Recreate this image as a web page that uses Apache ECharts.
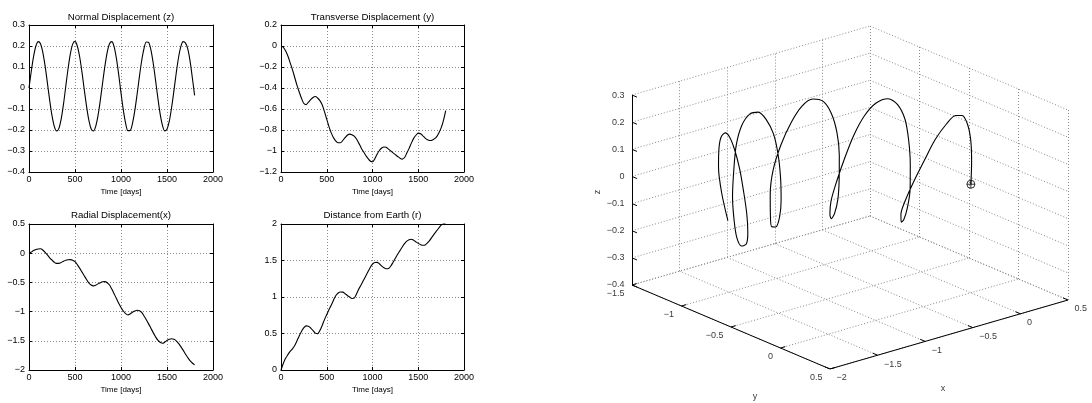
<!DOCTYPE html>
<html>
<head>
<meta charset="utf-8">
<script src="https://cdn.jsdelivr.net/npm/echarts@6/dist/echarts.min.js"></script>
<style>
  html, body { margin: 0; padding: 0; background: #fff; }
  #chart { width: 1092px; height: 403px; }
</style>
</head>
<body>
<div id="chart"></div>
<script>
// ---------------- data ----------------
const T = [0,25,50,75,100,125,150,175,200,225,250,275,300,325,350,375,400,425,450,475,500,525,550,575,600,625,650,675,700,725,750,775,800,825,850,875,900,925,950,975,1000,1025,1050,1075,1100,1125,1150,1175,1200,1225,1250,1275,1300,1325,1350,1375,1400,1425,1450,1475,1500,1525,1550,1575,1600,1625,1650,1675,1700,1725,1750,1775,1800];

// Normal displacement z
const Z_NORMAL = [0,0.081,0.151,0.200,0.221,0.211,0.170,0.105,0.024,-0.059,
  -0.132,-0.183,-0.205,-0.192,-0.147,-0.077,0.009,0.093,0.164,0.209,
  0.222,0.200,0.150,0.078,-0.005,-0.085,-0.152,-0.194,-0.205,-0.183,
  -0.132,-0.059,0.024,0.104,0.170,0.211,0.221,0.197,0.141,0.064,
  -0.023,-0.104,-0.167,-0.203,-0.202,-0.168,-0.108,-0.030,0.054,0.131,
  0.188,0.219,0.217,0.182,0.119,0.039,-0.046,-0.122,-0.177,-0.204,
  -0.196,-0.158,-0.093,-0.014,0.070,0.144,0.197,0.221,0.215,0.187,
  0.130,0.050,-0.035];

// Transverse displacement y
const Y_TRANSVERSE = [0,-0.012,-0.045,-0.095,-0.16,-0.225,-0.30,-0.375,-0.44,-0.50,
  -0.548,-0.558,-0.535,-0.51,-0.49,-0.481,-0.495,-0.52,-0.56,-0.625,
  -0.698,-0.77,-0.83,-0.875,-0.905,-0.922,-0.922,-0.9,-0.873,-0.85,
  -0.839,-0.845,-0.858,-0.885,-0.925,-0.968,-1.005,-1.04,-1.07,-1.095,
  -1.103,-1.075,-1.03,-0.995,-0.972,-0.962,-0.965,-0.982,-1.0,-1.018,
  -1.035,-1.052,-1.068,-1.077,-1.062,-1.02,-0.975,-0.925,-0.88,-0.85,
  -0.83,-0.835,-0.855,-0.877,-0.893,-0.9,-0.898,-0.885,-0.865,-0.828,
  -0.78,-0.71,-0.615];

// Radial displacement x
const X_RADIAL = [0,0.02,0.045,0.063,0.073,0.075,0.055,0.015,-0.03,-0.08,
  -0.118,-0.155,-0.175,-0.175,-0.158,-0.138,-0.122,-0.113,-0.11,-0.12,
  -0.145,-0.195,-0.255,-0.32,-0.385,-0.45,-0.51,-0.545,-0.56,-0.548,
  -0.525,-0.505,-0.49,-0.487,-0.505,-0.545,-0.615,-0.695,-0.775,-0.855,
  -0.93,-0.99,-1.035,-1.058,-1.04,-1.01,-0.99,-0.978,-0.985,-1.015,
  -1.075,-1.14,-1.21,-1.285,-1.36,-1.43,-1.49,-1.525,-1.543,-1.525,
  -1.495,-1.475,-1.465,-1.475,-1.5,-1.545,-1.6,-1.66,-1.725,-1.785,
  -1.84,-1.88,-1.913];

// Distance from Earth r
const R_DIST = [0,0.09,0.16,0.21,0.255,0.29,0.335,0.40,0.47,0.53,
  0.58,0.605,0.6,0.575,0.54,0.505,0.497,0.54,0.61,0.69,
  0.76,0.83,0.89,0.96,1.02,1.055,1.068,1.067,1.045,1.02,
  1.0,0.98,0.985,1.04,1.11,1.165,1.225,1.285,1.345,1.405,
  1.45,1.473,1.475,1.455,1.425,1.4,1.387,1.39,1.425,1.475,
  1.53,1.585,1.635,1.685,1.73,1.765,1.785,1.792,1.778,1.755,
  1.735,1.718,1.708,1.712,1.74,1.775,1.82,1.865,1.905,1.945,
  1.985,2.005,2.015];

const TITLES = ['Normal Displacement (z)', 'Transverse Displacement (y)', 'Radial Displacement(x)', 'Distance from Earth (r)'];
const X_LABEL = 'Time [days]';
const T_RANGE = [0, 2000, 500];
const Y_RANGES = [[-0.4, 0.3, 0.1], [-1.2, 0.2, 0.2], [-2, 0.5, 0.5], [0, 2, 0.5]];

// 3-D axes ticks
const X3_TICKS = [-2, -1.5, -1, -0.5, 0, 0.5];
const Y3_TICKS = [-1.5, -1, -0.5, 0, 0.5];
const Z3_TICKS = [-0.4, -0.3, -0.2, -0.1, 0, 0.1, 0.2, 0.3];
const AXIS3_NAMES = ['x', 'y', 'z'];

// ---------------- layout ----------------
const FONT = 'Liberation Sans, Arial, Helvetica, sans-serif';
const GRIDS = [
  {left: 29, top: 25, width: 184, height: 147},
  {left: 281, top: 25, width: 183, height: 147},
  {left: 29, top: 224, width: 184, height: 146},
  {left: 281, top: 224, width: 183, height: 146}
];
const TITLE_GAPS = [3, 3, 4, 4];
// 3-D view: pixel direction of one data unit along each axis
const P_ORIGIN = [632, 285];
const EX = [95.2, 27.6];
const EY = [99, -42];
const EZ = 271.4;

const XMIN = X3_TICKS[0], XMAX = X3_TICKS[X3_TICKS.length - 1];
const YMIN = Y3_TICKS[0], YMAX = Y3_TICKS[Y3_TICKS.length - 1];
const ZMIN = Z3_TICKS[0], ZMAX = Z3_TICKS[Z3_TICKS.length - 1];

function proj(x, y, z) {
  return [
    (x - XMIN) * EX[0] + (y - YMIN) * EY[0],
    (x - XMIN) * EX[1] + (y - YMIN) * EY[1] + (z - ZMIN) * EZ
  ];
}
function fmt(v) {
  const s = String(Math.round(v * 1000) / 1000);
  return s.replace('-', '\u2212');
}

const corners = [];
[XMIN, XMAX].forEach(x => [YMIN, YMAX].forEach(y => [ZMIN, ZMAX].forEach(z => corners.push(proj(x, y, z)))));
const uMin = Math.min(...corners.map(c => c[0])), uMax = Math.max(...corners.map(c => c[0]));
const vMin = Math.min(...corners.map(c => c[1])), vMax = Math.max(...corners.map(c => c[1]));

// ---------------- 2-D subplots ----------------
const SERIES_2D = [Z_NORMAL, Y_TRANSVERSE, X_RADIAL, R_DIST];
const grid = [], xAxis = [], yAxis = [], series = [];
const dotted = {color: '#8a8a8a', type: [1, 2], width: 1};
const black = {color: '#000', width: 1};

GRIDS.forEach((g, i) => {
  grid.push(Object.assign({outerBoundsMode: 'none', containLabel: false}, g));
  const yr = Y_RANGES[i];
  // bottom
  xAxis.push({
    gridIndex: i, type: 'value', position: 'bottom', min: T_RANGE[0], max: T_RANGE[1], interval: T_RANGE[2],
    axisLine: {show: true, onZero: false, lineStyle: black},
    axisTick: {show: true, inside: true, length: 3, lineStyle: black},
    axisLabel: {show: true, margin: 3, fontSize: 9, color: '#000', fontFamily: FONT, formatter: fmt},
    splitLine: {show: true, lineStyle: dotted},
    name: X_LABEL, nameLocation: 'middle', nameGap: 16,
    nameTextStyle: {fontSize: 8, color: '#000', fontFamily: FONT}
  });
  // left
  yAxis.push({
    gridIndex: i, type: 'value', position: 'left', min: yr[0], max: yr[1], interval: yr[2],
    axisLine: {show: true, onZero: false, lineStyle: black},
    axisTick: {show: true, inside: true, length: 3, lineStyle: black},
    axisLabel: {show: true, margin: 4, fontSize: 9, color: '#000', fontFamily: FONT, formatter: fmt},
    splitLine: {show: true, lineStyle: dotted}
  });
  series.push({
    type: 'line', xAxisIndex: i, yAxisIndex: i,
    data: T.map((t, k) => [t, SERIES_2D[i][k]]),
    showSymbol: false, smooth: 0.3, clip: true,
    lineStyle: {color: '#000', width: 1.1}, silent: true
  });
});
// top + right frame axes (box with inner ticks), top carries the title
GRIDS.forEach((g, i) => {
  const yr = Y_RANGES[i];
  xAxis.push({
    gridIndex: i, type: 'value', position: 'top', min: T_RANGE[0], max: T_RANGE[1], interval: T_RANGE[2],
    axisLine: {show: true, onZero: false, lineStyle: black},
    axisTick: {show: true, inside: true, length: 3, lineStyle: black},
    axisLabel: {show: false}, splitLine: {show: false},
    name: TITLES[i], nameLocation: 'middle', nameGap: TITLE_GAPS[i],
    nameTextStyle: {fontSize: 9.7, color: '#000', fontFamily: FONT}
  });
  yAxis.push({
    gridIndex: i, type: 'value', position: 'right', min: yr[0], max: yr[1], interval: yr[2],
    axisLine: {show: true, onZero: false, lineStyle: black},
    axisTick: {show: true, inside: true, length: 3, lineStyle: black},
    axisLabel: {show: false}, splitLine: {show: false}
  });
});

// ---------------- 3-D plot (projected onto a hidden cartesian) ----------------
const G3 = 4;
grid.push({
  outerBoundsMode: 'none', containLabel: false,
  left: P_ORIGIN[0] + uMin, top: P_ORIGIN[1] - vMax,
  width: uMax - uMin, height: vMax - vMin
});
xAxis.push({gridIndex: G3, type: 'value', min: uMin, max: uMax, show: false});
yAxis.push({gridIndex: G3, type: 'value', min: vMin, max: vMax, show: false});
const AX3 = xAxis.length - 1;

function seg(a, b) { return {coords: [proj(...a), proj(...b)]}; }
const gridSegs = [];
X3_TICKS.forEach(x => {
  gridSegs.push(seg([x, YMIN, ZMIN], [x, YMAX, ZMIN]));   // floor
  gridSegs.push(seg([x, YMIN, ZMIN], [x, YMIN, ZMAX]));   // back wall
});
Y3_TICKS.forEach(y => {
  gridSegs.push(seg([XMIN, y, ZMIN], [XMAX, y, ZMIN]));   // floor
  gridSegs.push(seg([XMAX, y, ZMIN], [XMAX, y, ZMAX]));   // side wall
});
Z3_TICKS.forEach(z => {
  gridSegs.push(seg([XMIN, YMIN, z], [XMAX, YMIN, z]));   // back wall
  gridSegs.push(seg([XMAX, YMIN, z], [XMAX, YMAX, z]));   // side wall
});
const axisSegs = [
  seg([XMIN, YMIN, ZMIN], [XMIN, YMIN, ZMAX]),
  seg([XMIN, YMIN, ZMIN], [XMIN, YMAX, ZMIN]),
  seg([XMIN, YMAX, ZMIN], [XMAX, YMAX, ZMIN])
];
const TL = 0.05;
Z3_TICKS.forEach(z => axisSegs.push(seg([XMIN, YMIN, z], [XMIN, YMIN + TL, z])));
Y3_TICKS.forEach(y => axisSegs.push(seg([XMIN, y, ZMIN], [XMIN + TL, y, ZMIN])));
X3_TICKS.forEach(x => axisSegs.push(seg([x, YMAX, ZMIN], [x, YMAX - TL, ZMIN])));

series.push({
  type: 'lines', coordinateSystem: 'cartesian2d', xAxisIndex: AX3, yAxisIndex: AX3,
  data: gridSegs, silent: true, z: 1,
  lineStyle: {color: '#8a8a8a', type: [1, 2], width: 1, opacity: 1}
});
series.push({
  type: 'lines', coordinateSystem: 'cartesian2d', xAxisIndex: AX3, yAxisIndex: AX3,
  data: axisSegs, silent: true, z: 3,
  lineStyle: {color: '#000', width: 1, opacity: 1}
});
// trajectory
series.push({
  type: 'line', xAxisIndex: AX3, yAxisIndex: AX3, z: 4,
  data: T.map((t, k) => proj(X_RADIAL[k], Y_TRANSVERSE[k], Z_NORMAL[k])),
  showSymbol: false, smooth: 0.3, clip: false, silent: true,
  lineStyle: {color: '#000', width: 1.1}
});
// start marker (Earth symbol)
series.push({
  type: 'scatter', xAxisIndex: AX3, yAxisIndex: AX3, z: 5, silent: true,
  data: [proj(X_RADIAL[0], Y_TRANSVERSE[0], Z_NORMAL[0])],
  symbol: 'path://M10,0A10,10,0,1,1,10,20A10,10,0,1,1,10,0ZM10,0L10,20M0,10L20,10',
  symbolSize: 8,
  itemStyle: {color: 'rgba(0,0,0,0)', borderColor: '#000', borderWidth: 1}
});
// tick labels and axis names
const lbl = (pos, text, label) => ({value: pos, name: text, label: Object.assign({show: true}, label)});
const labelData = [];
Z3_TICKS.forEach(z => labelData.push(lbl(proj(XMIN, YMIN, z), fmt(z), {position: 'left', distance: 7})));
Y3_TICKS.forEach(y => labelData.push(lbl(proj(XMIN, y, ZMIN), fmt(y), {position: 'left', distance: 7, offset: [0, 9]})));
X3_TICKS.forEach(x => labelData.push(lbl(proj(x, YMAX, ZMIN), fmt(x), {position: 'right', distance: 6, offset: [0, 9]})));
labelData.push(lbl(proj((XMIN + XMAX) / 2, YMAX, ZMIN), AXIS3_NAMES[0], {position: 'inside', offset: [-6, 54]}));
labelData.push(lbl(proj(XMIN, (YMIN + YMAX) / 2, ZMIN), AXIS3_NAMES[1], {position: 'inside', offset: [24, 70]}));
labelData.push(lbl(proj(XMIN, YMIN, (ZMIN + ZMAX) / 2), AXIS3_NAMES[2], {position: 'inside', offset: [-2, -34], rotate: 90}));
series.push({
  type: 'scatter', xAxisIndex: AX3, yAxisIndex: AX3, z: 6, silent: true,
  symbolSize: 1, itemStyle: {color: 'rgba(0,0,0,0)'},
  label: {show: true, formatter: '{b}', fontSize: 9, color: '#000', fontFamily: FONT},
  data: labelData
});

const chart = echarts.init(document.getElementById('chart'), null, {renderer: 'canvas'});
chart.setOption({
  backgroundColor: '#fff',
  animation: false,
  textStyle: {fontFamily: FONT},
  grid: grid, xAxis: xAxis, yAxis: yAxis, series: series
});
</script>
</body>
</html>
